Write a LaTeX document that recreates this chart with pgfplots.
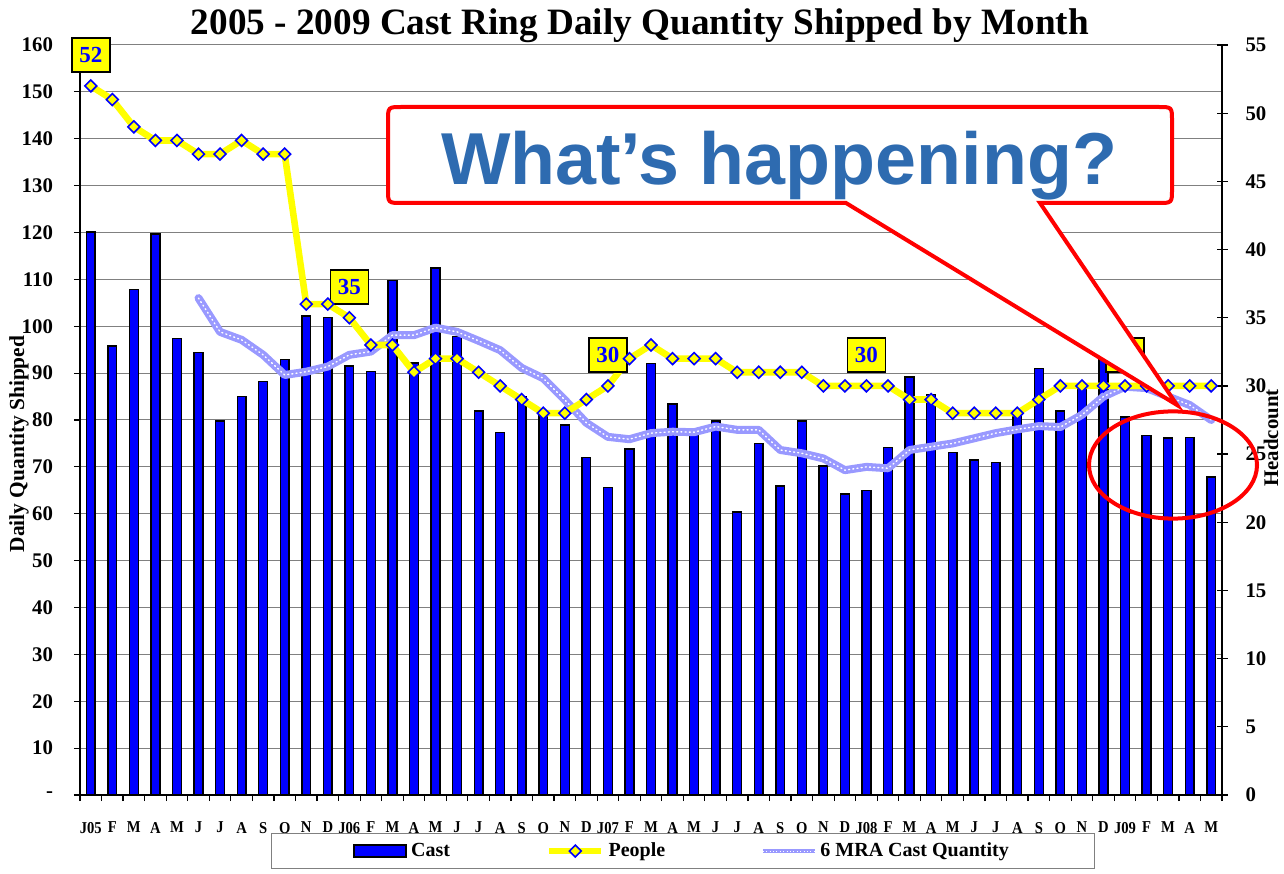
\documentclass[border=0pt]{standalone}
\usepackage{fontspec}
\setmainfont{Liberation Serif}
\newfontfamily\sansfont{Liberation Sans}
\newfontfamily\narrowfont[FakeStretch=0.88]{Liberation Serif}
\usepackage{pgfplots}
\usepackage{pgfplotstable}
\pgfplotsset{compat=1.18}
\definecolor{castblue}{RGB}{0,0,255}
\definecolor{mra}{RGB}{153,153,255}
\definecolor{peopley}{RGB}{255,255,0}
\definecolor{calloutblue}{RGB}{46,107,176}
\definecolor{gridgray}{RGB}{128,128,128}

\pgfplotstableread{
idx cast mra people
0 120.1 nan 52
1 95.8 nan 51
2 107.9 nan 49
3 119.7 nan 48
4 97.4 nan 48
5 94.4 106.0 47
6 79.8 98.8 47
7 85.0 97.1 48
8 88.2 93.9 47
9 92.9 89.6 47
10 102.2 90.3 36
11 101.9 91.4 36
12 91.5 93.9 35
13 90.4 94.6 33
14 109.7 98.1 33
15 92.2 98.1 31
16 112.4 99.7 32
17 97.8 98.8 32
18 81.9 96.9 31
19 77.3 94.9 30
20 85.0 91.1 29
21 82.0 88.9 28
22 78.9 84.3 28
23 72.0 79.4 29
24 65.6 76.4 30
25 73.8 75.9 32
26 92.1 77.2 33
27 83.4 77.5 32
28 77.2 77.4 32
29 79.8 78.6 32
30 60.4 77.9 31
31 75.0 77.9 31
32 65.9 73.6 31
33 79.8 72.9 31
34 70.2 71.8 30
35 64.2 69.3 30
36 64.9 70.0 30
37 74.1 69.7 30
38 89.2 73.6 29
39 85.5 74.3 29
40 73.1 75.0 28
41 71.5 76.1 28
42 70.9 77.2 28
43 81.0 78.0 28
44 91.0 78.7 29
45 81.9 78.5 30
46 86.8 81.1 30
47 93.0 85.0 30
48 80.6 87.1 30
49 76.7 86.8 30
50 76.2 85.0 30
51 76.3 83.2 30
52 67.8 80.0 30
}\chartdata

\tikzset{
  mrastyle/.style={mra, line width=4pt, line join=round, line cap=round,
    postaction={draw=white, line width=0.7pt, dash pattern=on 0.5pt off 1.6pt}},
  lbl/.style={draw=black, fill=peopley, line width=0.8pt, minimum width=19pt,
    minimum height=17pt, inner sep=0pt, text=blue,
    font=\bfseries\fontsize{11.5}{12}\selectfont, yshift=15.5pt},
}
\pgfplotsset{
  peoplelegend/.style={legend image code/.code={\draw[##1, mark repeat=2, mark phase=2] plot coordinates {(0pt,0pt) (13pt,0pt) (26pt,0pt)};}},
  castlegend/.style={legend image code/.code={\draw[fill=castblue, draw=black, line width=1pt] (0pt,-3.2pt) rectangle (26pt,3.2pt);}},
  mralegend/.style={legend image code/.code={\draw[mra, line width=1.6pt, postaction={draw=white, line width=0.4pt, dash pattern=on 0.5pt off 1.2pt}] (0pt,0pt) -- (26pt,0pt);}},
}

\begin{document}
\begin{tikzpicture}
\useasboundingbox (0,0) rectangle (642pt,436.5pt);
\begin{axis}[
  at={(40pt,39pt)}, anchor=south west,
  scale only axis, width=571pt, height=375pt,
  xmin=-0.5, xmax=52.5, ymin=0, ymax=160,
  axis x line*=bottom, axis y line*=left,
  axis line style={line width=0.7pt, -},
  tick align=outside,
  major tick length=3pt, minor tick length=3pt,
  tick style={black, line width=0.6pt},
  xtick={0,...,52},
  xticklabels={J05,F,M,A,M,J,J,A,S,O,N,D,J06,F,M,A,M,J,J,A,S,O,N,D,J07,F,M,A,M,J,J,A,S,O,N,D,J08,F,M,A,M,J,J,A,S,O,N,D,J09,F,M,A,M},
  major x tick style={draw=none},
  minor xtick={-0.5,0.5,...,52.5},
  ytick={0,10,...,160},
  yticklabels={-,10,20,30,40,50,60,70,80,90,100,110,120,130,140,150,160},
  ymajorgrids, grid style={gridgray, line width=0.5pt},
  xticklabel style={font=\narrowfont\bfseries\fontsize{8.3}{9}\selectfont, yshift=-7pt},
  yticklabel style={font=\bfseries\fontsize{10.4}{12}\selectfont, xshift=-7pt},
]
\addplot[ybar, bar width=4.4pt, fill=castblue, draw=black, line width=0.7pt] table[x=idx,y=cast]{\chartdata};
\addplot[mrastyle] table[x=idx,y=mra]{\chartdata};
\end{axis}

\begin{axis}[
  at={(40pt,39pt)}, anchor=south west,
  scale only axis, width=571pt, height=375pt,
  xmin=-0.5, xmax=52.5, ymin=0, ymax=55,
  clip=false,
  axis x line=none, axis y line*=right,
  axis line style={line width=0.7pt, -},
  tick align=center, major tick length=5.5pt,
  tick style={black, line width=0.6pt},
  ytick={0,5,...,55},
  yticklabels={0,5,10,15,20,25,30,35,40,45,50,55},
  yticklabel style={font=\bfseries\fontsize{10.4}{12}\selectfont, xshift=5.5pt},
  legend style={at={(0.528,-0.0747)}, anchor=center, legend columns=3,
    draw=gray, line width=0.6pt, inner xsep=41pt, inner ysep=2.5pt,
    font=\bfseries\fontsize{10}{11}\selectfont,
    /tikz/every even column/.append style={column sep=46pt}},
]
\addlegendimage{castlegend}
\addlegendentry{Cast}
\addplot[peopley, line width=3.3pt, mark=square*, mark size=2.1pt,
  mark options={fill=peopley, draw=blue, line width=0.8pt, rotate=45, solid},
  peoplelegend] table[x=idx,y=people]{\chartdata};
\addlegendentry{People}
\addlegendimage{mralegend}
\addlegendentry{6 MRA Cast Quantity}
\node[lbl] at (axis cs:0,52) {52};
\node[lbl] at (axis cs:12,35) {35};
\node[lbl] at (axis cs:24,30) {30};
\node[lbl] at (axis cs:36,30) {30};
\node[lbl] at (axis cs:48,30) {30};
\end{axis}

\begin{scope}[shift={(0pt,436.5pt)}, x=0.5pt, y=-0.5pt]
\node[anchor=base, font=\bfseries\fontsize{18.6}{20}\selectfont] at (640,35) {2005 - 2009 Cast Ring Daily Quantity Shipped by Month};
\node[rotate=90, font=\bfseries\fontsize{10.7}{12}\selectfont] at (19,444) {Daily Quantity Shipped};
\node[rotate=90, font=\bfseries\fontsize{10.4}{12}\selectfont] at (1271,438) {Headcount};
\draw[red, line width=2pt, fill=white, line join=miter]
  (1177,405) -- (1040,203) -- (1158,203) .. controls (1172,203) .. (1172,189)
  -- (1172,121) .. controls (1172,107) .. (1158,107) -- (402,107)
  .. controls (388,107) .. (388,121) -- (388,189) .. controls (388,203) .. (402,203)
  -- (846,203) -- cycle;
\node[anchor=base, text=calloutblue, font=\sansfont\bfseries\fontsize{36.8}{40}\selectfont] at (779,185) {What’s happening?};
\draw[red, line width=2pt] (1173,465) ellipse [x radius=42pt, y radius=26.8pt];
\end{scope}
\end{tikzpicture}
\end{document}
